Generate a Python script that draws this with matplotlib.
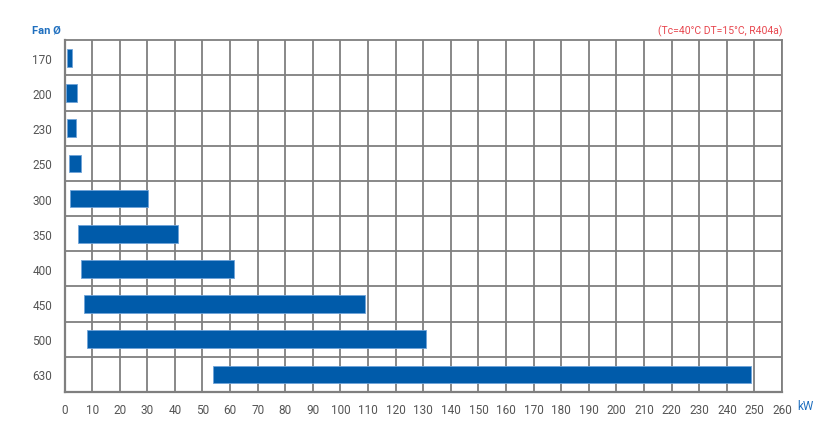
import matplotlib
matplotlib.use('Agg')
import matplotlib.pyplot as plt

fans = ['170', '200', '230', '250', '300', '350', '400', '450', '500', '630']
kw_min = [1.0, 0.7, 1.0, 1.5, 2.1, 5.0, 6.1, 7.0, 8.3, 53.7]
kw_max = [2.6, 4.6, 4.3, 5.9, 30.1, 41.1, 61.3, 108.9, 131.0, 248.6]
xticks = list(range(0, 270, 10))

plt.rcParams['font.family'] = ['Roboto', 'DejaVu Sans']

fig = plt.figure(figsize=(8.4, 4.35), dpi=100)
ax = fig.add_axes([0.0768, 0.0966, 0.8542, 0.8084])

ypos = list(range(len(fans)))
widths = [b - a for a, b in zip(kw_min, kw_max)]
ax.barh(ypos, widths, left=kw_min, height=0.5, color='#005BAA',
        edgecolor='#6fa3d8', linewidth=0.6, zorder=3)

ax.set_xlim(0, 260)
ax.set_ylim(len(fans) - 0.5, -0.5)
ax.set_xticks(xticks)
ax.set_yticks(ypos)
ax.set_yticklabels(fans)
ax.set_yticks([i - 0.5 for i in range(1, len(fans))], minor=True)
ax.grid(False)
ax.xaxis.grid(True, which='major', color='#7f7f7f', linewidth=1.3, zorder=1)
ax.yaxis.grid(True, which='minor', color='#7f7f7f', linewidth=1.3, zorder=1)
ax.tick_params(which='both', length=0)
ax.tick_params(axis='x', pad=8, labelsize=8.5, labelcolor='#555555')
ax.tick_params(axis='y', pad=9, labelsize=8.5, labelcolor='#555555')
for s in ['top', 'right']:
    ax.spines[s].set_color('#7f7f7f')
    ax.spines[s].set_linewidth(1.3)
for s in ['left', 'bottom']:
    ax.spines[s].set_color('#7f7f7f')
    ax.spines[s].set_linewidth(1.6)

fig.text(32 / 840, 1 - 31 / 435, 'Fan Ø', color='#1f6fbf', fontsize=8,
         fontweight='bold', va='center', ha='left')
fig.text(782 / 840, 1 - 31 / 435, '(Tc=40°C DT=15°C, R404a)', color='#e8474f',
         fontsize=7.5, va='center', ha='right')
fig.text(797 / 840, 1 - 407 / 435, 'kW', color='#1f6fbf', fontsize=8.5,
         va='center', ha='left')

fig.savefig('out.png')
plt.close(fig)
